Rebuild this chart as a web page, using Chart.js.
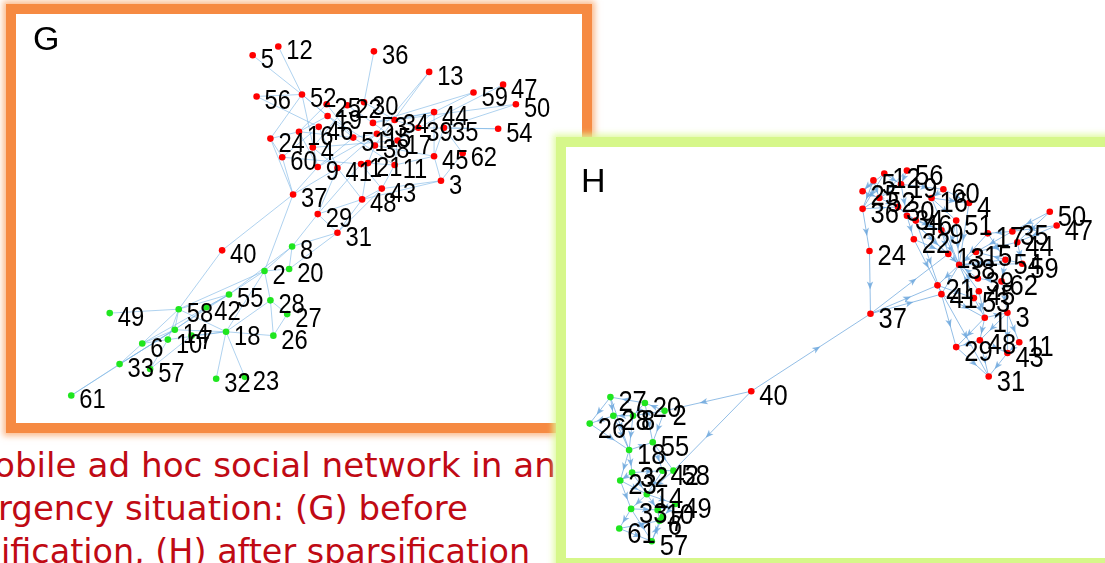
<!DOCTYPE html>
<html>
<head>
<meta charset="utf-8">
<script src="https://cdn.jsdelivr.net/npm/chart.js@4.4.0/dist/chart.umd.min.js"></script>
<style>
  body{margin:0;width:1105px;height:563px;overflow:hidden;background:#fff;position:relative;font-family:"Liberation Sans",Arial,sans-serif}
  .panel{position:absolute;box-sizing:border-box;background:#fff}
  #gBox{left:6px;top:4px;width:586px;height:429px;border:10px solid #f68a42;box-shadow:0 0 6px 3px rgba(250,165,105,.75)}
  #hBox{left:556px;top:137px;width:570px;height:431px;border:10px solid #d6f78a;box-shadow:0 0 6px 3px rgba(222,250,155,.85)}
  .panel canvas{position:absolute;left:0;top:0}
  .tag{position:absolute;font-size:34px;line-height:34px;color:#000}
  .cap{position:absolute;color:#c00a14;white-space:nowrap;font-family:"DejaVu Sans",sans-serif;font-size:33px;line-height:33px;transform-origin:0 0}
</style>
</head>
<body>
<div id="gBox" class="panel">
  <canvas id="gChart" width="566" height="409"></canvas>
  <div class="tag" style="left:17px;top:7px">G</div>
</div>
<div class="cap" data-right="556" style="left:-6px;top:449px">obile ad hoc social network in an</div>
<div class="cap" data-right="468" style="left:-2px;top:492px">rgency situation: (G) before</div>
<div class="cap" data-right="530" style="left:1px;top:535px">ification, (H) after sparsification</div>
<div id="hBox" class="panel">
  <canvas id="hChart" width="540" height="411"></canvas>
  <div class="tag" style="left:15px;top:16px">H</div>
</div>
<script>
// ---- panel G (before sparsification) ----
const gIds = [5,12,36,13,59,47,50,56,52,25,22,30,19,53,34,44,39,35,54,46,16,24,51,15,38,17,4,60,45,62,9,41,1,21,11,3,37,43,48,29,31,40,
              8,2,20,55,28,27,58,42,49,14,7,10,6,18,26,33,57,32,23,61];
const gX = [252,278,375,431,476,506,519,256,302,327,348,365,328,374,396,436,420,446,501,319,299,270,354,378,376,399,313,282,436,465,318,338,362,369,396,443,293,383,363,318,338,221,
            292,264,289,228,270,287,177,205,107,173,190,166,140,225,273,117,148,215,244,68];
const gY = [52,43,48,69,90,82,102,94,92,102,103,100,114,121,118,110,126,126,127,125,130,137,136,132,144,139,146,156,155,152,166,167,163,162,164,180,194,188,199,214,233,251,
            247,272,270,296,302,316,311,309,315,332,338,342,346,334,338,367,372,382,380,399];
const gGreen = [8,2,20,55,28,27,58,42,49,14,7,10,6,18,26,33,57,32,23,61];
const gEdges = [
  [5,52],[12,52],[56,52],[56,46],[52,24],[52,19],[52,51],[52,9],[36,30],[13,15],[13,38],[59,44],[59,53],
  [47,39],[50,35],[50,34],[54,35],[54,39],[62,3],[62,35],[45,3],[45,44],[25,16],[25,51],[22,53],[22,4],
  [30,34],[19,16],[19,38],[46,60],[46,41],[16,24],[16,9],[16,51],[24,60],[24,37],[4,41],[4,17],[60,37],
  [60,1],[51,15],[51,11],[53,17],[53,44],[34,44],[34,39],[39,17],[35,45],[15,17],[15,41],[38,21],[38,45],
  [17,11],[17,44],[9,37],[9,51],[9,15],[41,48],[41,29],[1,21],[1,43],[21,11],[21,48],[11,45],[11,43],
  [3,43],[3,48],[37,40],[37,2],[37,41],[43,48],[48,29],[48,31],[43,31],[29,8],[29,31],[31,8],[31,20],[1,29],
  [40,58],[8,2],[8,20],[8,55],[2,20],[2,55],[2,28],[2,18],[2,58],[55,58],[55,42],[55,6],[28,27],[28,26],
  [28,18],[27,26],[42,14],[58,49],[58,14],[58,6],[58,10],[58,18],[14,6],[14,18],[14,33],[10,6],[10,18],
  [7,18],[7,57],[6,33],[33,61],[61,55],[18,32],[18,23],[18,26],[10,57],[33,14]
];

// ---- panel H (after sparsification) ----
const hIds = [12,56,5,19,25,52,60,16,4,36,30,34,46,51,9,22,17,35,44,50,47,13,15,54,59,24,38,39,62,21,41,45,53,37,1,3,29,48,11,43,31,40,
              27,20,2,26,28,8,18,55,32,42,58,23,14,49,33,10,7,6,61,57];
const hX = [885,908,874,902,863,880,945,933,971,863,899,908,917,958,943,915,990,1015,1020,1053,1060,950,978,1008,1025,870,961,980,1004,939,943,981,976,871,987,1010,958,982,1022,1010,991,750,
            607,642,662,586,610,630,626,650,629,660,671,617,644,673,628,655,660,657,616,649];
const hY = [170,167,177,181,188,195,186,195,200,206,204,213,218,218,228,237,231,229,240,209,223,252,250,258,262,249,263,277,280,284,293,290,297,313,317,312,347,340,342,353,377,392,
            398,404,412,425,417,417,452,444,475,473,473,483,497,507,512,513,520,524,532,545];
const hGreen = [27,20,2,26,28,8,18,55,32,42,58,23,14,49,33,10,7,6,61,57];
const hEdges = [
  [5,36],[12,25],[56,52],[19,36],[25,52],[5,25],[12,19],[56,19],[52,30],[36,30],[30,46],[34,22],[19,60],
  [60,16],[16,4],[46,9],[9,13],[22,13],[22,21],[46,41],[51,38],[4,38],[51,13],[16,38],[9,38],[13,38],
  [15,38],[17,38],[35,15],[44,15],[50,35],[47,35],[50,44],[47,44],[54,38],[59,38],[59,15],[54,62],[39,38],
  [62,39],[38,21],[38,41],[45,38],[53,38],[45,53],[21,53],[41,1],[41,29],[21,31],[1,48],[3,48],[3,43],
  [3,11],[1,29],[48,29],[48,43],[11,43],[29,31],[43,31],[48,31],[1,3],[45,1],[53,1],[62,3],[30,38],[34,38],
  [36,24],[24,37],[37,21],[37,41],[37,13],[40,37],[40,2],[40,58],[5,52],[12,36],[19,34],[34,9],[60,4],
  [16,51],[17,54],[35,17],[44,59],
  [27,26],[20,27],[2,20],[28,26],[8,28],[27,28],[20,8],[2,8],[26,18],[28,18],[8,18],[18,55],[18,32],
  [18,23],[55,42],[55,58],[32,42],[23,14],[32,14],[42,14],[58,14],[14,49],[14,33],[14,10],[33,61],[33,10],
  [10,6],[6,7],[7,57],[61,6],[57,6],[49,10],[23,33],[32,23],[42,58],[2,55],[20,55],[27,18],[49,7],[33,57],[61,57]
];

function drawGraph(canvasId, ids, xs, ys, greenIds, edges, extent, opt) {
  const red = [], green = [], pos = {};
  ids.forEach(function (id, i) {
    pos[id] = [xs[i], ys[i]];
    (greenIds.includes(id) ? green : red).push({x: xs[i], y: ys[i]});
  });

  const graphPlugin = {
    id: 'graph',
    beforeDatasetsDraw(chart) {
      const c = chart.ctx, sx = chart.scales.x, sy = chart.scales.y;
      c.save();
      c.strokeStyle = opt.edgeColor;
      c.fillStyle = opt.edgeColor;
      c.lineWidth = opt.edgeWidth;
      edges.forEach(function (e) {
        const x1 = sx.getPixelForValue(pos[e[0]][0]), y1 = sy.getPixelForValue(pos[e[0]][1]);
        const x2 = sx.getPixelForValue(pos[e[1]][0]), y2 = sy.getPixelForValue(pos[e[1]][1]);
        c.beginPath();
        c.moveTo(x1, y1);
        c.lineTo(x2, y2);
        c.stroke();
        if (opt.arrows) {
          const len = Math.hypot(x2 - x1, y2 - y1);
          if (len < 12) return;
          const ux = (x2 - x1) / len, uy = (y2 - y1) / len;
          const mx = x1 + (x2 - x1) * 0.55, my = y1 + (y2 - y1) * 0.55;
          c.beginPath();
          c.moveTo(mx + ux * 4, my + uy * 4);
          c.lineTo(mx - ux * 4 - uy * 3.2, my - uy * 4 + ux * 3.2);
          c.lineTo(mx - ux * 2, my - uy * 2);
          c.lineTo(mx - ux * 4 + uy * 3.2, my - uy * 4 - ux * 3.2);
          c.closePath();
          c.fill();
        }
      });
      c.restore();
    },
    afterDatasetsDraw(chart) {
      const c = chart.ctx, sx = chart.scales.x, sy = chart.scales.y;
      c.save();
      c.fillStyle = '#000';
      c.font = opt.labelSize + 'px "Liberation Sans", Arial, sans-serif';
      c.textBaseline = 'alphabetic';
      ids.forEach(function (id) {
        c.save();
        c.translate(sx.getPixelForValue(pos[id][0]) + 8, sy.getPixelForValue(pos[id][1]) + opt.labelDrop);
        c.scale(0.88, 1);
        c.fillText(String(id), 0, 0);
        c.restore();
      });
      c.restore();
    }
  };

  return new Chart(document.getElementById(canvasId), {
    type: 'scatter',
    data: {
      datasets: [
        {data: red, backgroundColor: '#ff0000', pointRadius: 3.3, borderWidth: 0},
        {data: green, backgroundColor: '#1fe61f', pointRadius: 3.3, borderWidth: 0}
      ]
    },
    options: {
      responsive: false,
      animation: false,
      events: [],
      layout: {padding: 0},
      plugins: {legend: {display: false}, tooltip: {enabled: false}},
      scales: {
        x: {type: 'linear', display: false, min: extent[0], max: extent[1]},
        y: {type: 'linear', display: false, min: extent[2], max: extent[3], reverse: true}
      }
    },
    plugins: [graphPlugin]
  });
}

drawGraph('gChart', gIds, gX, gY, gGreen, gEdges, [16, 582, 14, 423],
  {edgeColor: 'rgba(120,180,228,0.75)', edgeWidth: 0.8, arrows: false, labelSize: 27, labelDrop: 13});
drawGraph('hChart', hIds, hX, hY, hGreen, hEdges, [566, 1106, 147, 558],
  {edgeColor: 'rgba(105,165,220,0.8)', edgeWidth: 0.9, arrows: true, labelSize: 29, labelDrop: 14});

// stretch each caption line so it ends where the reference line ends
document.querySelectorAll('.cap').forEach(function (el) {
  const r = el.getBoundingClientRect();
  const k = (Number(el.dataset.right) - r.left) / r.width;
  el.style.transform = 'scaleX(' + k.toFixed(3) + ')';
});
</script>
</body>
</html>
